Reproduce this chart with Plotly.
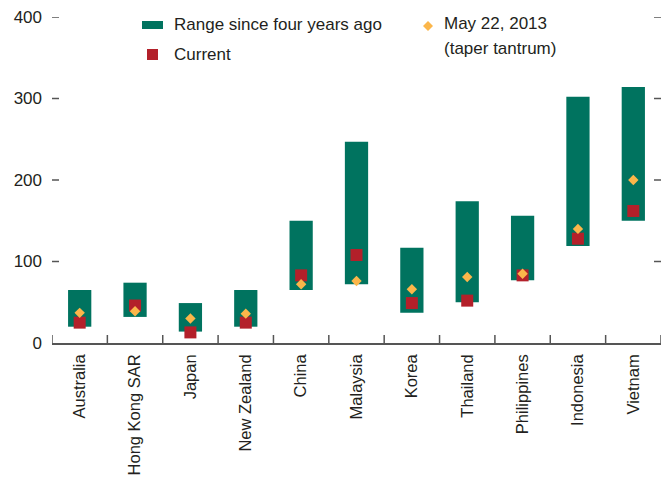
import plotly.graph_objects as go

categories = ["Australia", "Hong Kong SAR", "Japan", "New Zealand", "China", "Malaysia",
              "Korea", "Thailand", "Philippines", "Indonesia", "Vietnam"]
range_low = [20, 32, 14, 20, 65, 72, 37, 50, 77, 119, 150]
range_high = [65, 74, 49, 65, 150, 247, 117, 174, 156, 302, 314]
current = [25, 46, 13, 25, 83, 108, 49, 52, 83, 128, 162]
taper_tantrum = [37, 39, 30, 36, 72, 76, 66, 81, 85, 140, 200]
y_ticks = [0, 100, 200, 300, 400]

GREEN = "#00735f"
RED = "#b3202a"
GOLD = "#fbb64a"
TEXT = "#231f20"
AXIS = "#555555"
FONT = "Liberation Sans, Arial, sans-serif"

fig = go.Figure()
fig.add_trace(go.Bar(
    x=categories, y=[h - l for h, l in zip(range_high, range_low)], base=range_low,
    width=0.42, marker=dict(color=GREEN, line=dict(width=0)),
    name="Range since four years ago", showlegend=False, hoverinfo="skip"))
fig.add_trace(go.Scatter(
    x=categories, y=current, mode="markers",
    marker=dict(symbol="square", size=12, color=RED, line=dict(width=0)),
    name="Current", showlegend=False))
fig.add_trace(go.Scatter(
    x=categories, y=taper_tantrum, mode="markers",
    marker=dict(symbol="diamond", size=8, color=GOLD, line=dict(width=0)),
    name="May 22, 2013 (taper tantrum)", showlegend=False))

# plot area in pixels: x 52..661, y 17..343
L, R, T, B = 52, 661, 17, 343
def px(x):
    return (x - L) / (R - L)
def py(y):
    return (B - y) / (B - T)

shapes = [
    dict(type="rect", xref="paper", yref="paper", x0=px(142), x1=px(163), y0=py(29), y1=py(21),
         fillcolor=GREEN, line=dict(width=0)),
    dict(type="rect", xref="paper", yref="paper", x0=px(147), x1=px(158), y0=py(60), y1=py(49),
         fillcolor=RED, line=dict(width=0)),
    dict(type="path", xref="paper", yref="paper",
         path=f"M {px(423)},{py(26)} L {px(428)},{py(21)} L {px(433)},{py(26)} L {px(428)},{py(31)} Z",
         fillcolor=GOLD, line=dict(width=0)),
]
# y-axis tick marks, drawn inside on both sides of the plot
for v in y_ticks:
    if v == 0:
        continue
    shapes.append(dict(type="line", xref="paper", yref="y", x0=0, x1=px(L + 7), y0=v, y1=v,
                       line=dict(color=AXIS, width=1.5)))
    shapes.append(dict(type="line", xref="paper", yref="y", x0=px(R - 7), x1=1, y0=v, y1=v,
                       line=dict(color=AXIS, width=1.5)))
# x-axis tick marks at category boundaries, pointing up
for i in range(len(categories) + 1):
    shapes.append(dict(type="line", xref="x", yref="paper", x0=i - 0.5, x1=i - 0.5,
                       y0=0, y1=py(B - 8), line=dict(color=AXIS, width=1.5)))

annotations = [
    dict(xref="paper", yref="paper", x=px(172), y=py(25), xanchor="left", yanchor="middle",
         text="Range since four years ago", showarrow=False, font=dict(size=17, color=TEXT, family=FONT)),
    dict(xref="paper", yref="paper", x=px(172), y=py(54), xanchor="left", yanchor="middle",
         text="Current", showarrow=False, font=dict(size=17, color=TEXT, family=FONT)),
    dict(xref="paper", yref="paper", x=px(442), y=py(24), xanchor="left", yanchor="middle",
         text="May 22, 2013", showarrow=False, font=dict(size=17, color=TEXT, family=FONT)),
    dict(xref="paper", yref="paper", x=px(442), y=py(48), xanchor="left", yanchor="middle",
         text="(taper tantrum)", showarrow=False, font=dict(size=17, color=TEXT, family=FONT)),
]

fig.update_layout(
    width=670, height=477,
    margin=dict(l=L, r=670 - R, t=T, b=477 - B, autoexpand=False),
    plot_bgcolor="white", paper_bgcolor="white",
    font=dict(family=FONT, size=17, color=TEXT),
    shapes=shapes, annotations=annotations,
    xaxis=dict(type="category", range=[-0.5, len(categories) - 0.5], automargin=False,
               showline=True, linecolor=AXIS, linewidth=1.5, ticks="",
               tickangle=-90, tickfont=dict(size=16.5), showgrid=False, ticklabelstandoff=3),
    yaxis=dict(range=[0, 400], tickvals=y_ticks, automargin=False,
               showline=False, showgrid=False, zeroline=False, ticks="",
               tickfont=dict(size=17), ticklabelstandoff=9),
)

fig.write_html("out.html", config={"displayModeBar": False},
               post_script="document.body.style.margin='0';")
